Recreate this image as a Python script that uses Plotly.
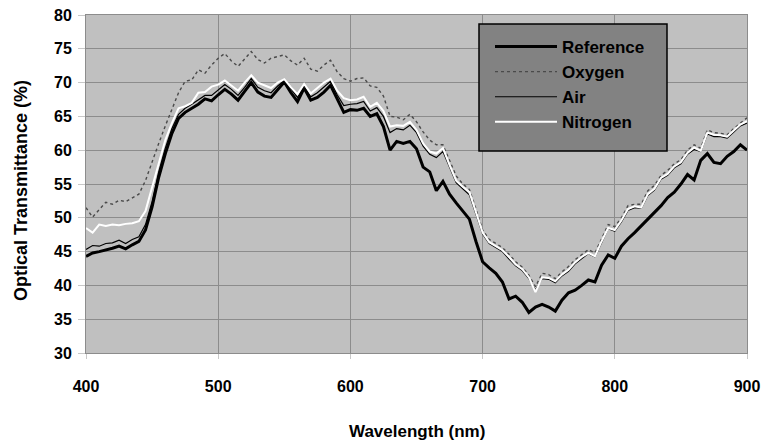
import plotly.graph_objects as go

wavelength = list(range(400, 901, 5))

reference = [44.3, 44.8, 45.0, 45.2, 45.5, 45.8, 45.4, 46.0, 46.5, 48.2,
             51.6, 56.0, 59.5, 62.5, 64.7, 65.6, 66.2, 66.8, 67.6, 67.3,
             68.2, 69.0, 68.3, 67.4, 68.7, 70.0, 68.6, 68.0, 67.8, 69.0,
             70.1, 68.5, 67.2, 69.2, 67.4, 67.8, 68.6, 69.6, 67.5, 65.6,
             66.0, 65.9, 66.2, 65.0, 65.4, 63.5, 60.0, 61.3, 61.0, 61.3,
             60.2, 57.5, 56.8, 54.0, 55.4, 53.5, 52.2, 51.0, 49.8, 46.5,
             43.5, 42.6, 41.8, 40.5, 38.0, 38.4, 37.5, 36.0, 36.8, 37.2,
             36.8, 36.2, 37.8, 38.9, 39.3, 40.0, 40.8, 40.5, 43.0, 44.5,
             44.0, 45.8, 46.9, 47.8, 48.8, 49.7, 50.8, 51.8, 53.0, 53.8,
             55.0, 56.4, 55.6, 58.5, 59.5, 58.2, 58.0, 59.1, 59.8, 60.8,
             60.0]

oxygen = [51.5, 50.1, 51.2, 52.3, 52.0, 52.6, 52.4, 53.0, 53.5, 55.5,
          58.4, 61.0, 63.6, 66.0, 68.5, 70.2, 70.4, 71.9, 71.4, 72.6,
          73.6, 74.3, 73.2, 72.4, 73.5, 74.6, 73.4, 72.9, 73.6, 73.8,
          74.1, 73.2, 72.6, 73.6, 72.0, 71.7, 72.6, 73.3, 71.6, 70.6,
          70.2, 70.6, 70.7, 69.5, 69.3, 68.0, 65.0, 64.9, 64.5, 65.3,
          64.2, 62.7, 61.5, 60.8, 60.8, 58.5, 56.2, 55.0, 54.2, 51.3,
          48.2, 46.8, 46.2, 45.6, 44.6, 43.5, 42.7, 41.5, 39.8, 41.8,
          41.6, 41.0, 42.0, 42.8, 43.8, 44.6, 45.3, 44.8, 47.0, 49.0,
          48.7, 50.0, 51.8, 52.0, 52.0, 54.0, 54.8, 56.3, 57.0, 58.0,
          58.6, 60.0, 60.8, 60.3, 63.0, 62.6, 62.5, 62.3, 63.2, 64.0,
          64.8]

air = [45.3, 45.9, 45.8, 46.2, 46.3, 46.7, 46.2, 46.8, 47.2, 49.0,
       52.4, 56.8, 60.3, 63.2, 65.3, 66.2, 66.8, 67.5, 68.1, 68.1,
       68.9, 69.7, 69.0, 68.1, 69.3, 70.6, 69.3, 68.8, 68.5, 69.5,
       70.3, 69.0, 67.8, 69.5, 67.9, 68.5, 69.3, 70.2, 68.2, 66.6,
       66.8, 66.9, 67.2, 65.8, 66.3, 65.0, 62.6, 63.2, 63.0, 63.7,
       62.6, 60.6, 59.4, 58.9, 59.8, 57.4, 55.2, 54.3, 53.4, 50.5,
       47.6, 46.2, 45.6, 45.0, 43.9, 42.9, 42.2, 41.0, 39.3, 41.0,
       40.9, 40.4, 41.4, 42.1, 43.2, 44.0, 44.7, 44.2, 46.4, 48.4,
       48.0, 49.4, 51.1, 51.5, 51.4, 53.3, 54.1, 55.7, 56.3, 57.4,
       58.0, 59.4, 60.1, 59.8, 62.4, 62.0, 62.0, 61.8, 62.7, 63.6,
       64.0]

nitrogen = [48.5, 47.8, 49.0, 48.8, 49.0, 48.9, 49.1, 49.2, 49.5, 51.0,
            54.5, 58.0, 61.5, 64.0, 66.2, 66.5, 67.0, 68.5, 68.6, 69.4,
            69.7, 70.3, 69.6, 68.8, 70.0, 71.1, 70.0, 69.6, 69.2, 70.0,
            70.5, 69.3, 68.3, 69.8, 68.4, 69.2, 70.0, 70.6, 68.8, 67.7,
            67.4, 67.5, 67.9, 66.4, 67.0, 65.8, 63.5, 63.7, 63.6, 64.2,
            63.0, 61.0, 59.8, 59.5, 60.3, 57.8, 55.5, 54.6, 53.8, 50.8,
            47.8, 46.4, 45.8, 45.2, 44.2, 43.1, 42.4, 41.2, 39.0, 41.2,
            41.1, 40.6, 41.6, 42.3, 43.4, 44.2, 44.8, 44.3, 46.5, 48.5,
            48.2, 49.6, 51.3, 51.7, 51.5, 53.5, 54.3, 55.9, 56.5, 57.6,
            58.2, 59.6, 60.4, 59.9, 62.6, 62.3, 62.2, 62.0, 62.9, 63.8,
            64.3]

x_ticks = [400, 500, 600, 700, 800, 900]
y_ticks = [30, 35, 40, 45, 50, 55, 60, 65, 70, 75, 80]

FONT = "Liberation Sans, Arial, sans-serif"

# plot area in pixels
L, R, T, B = 86, 747, 15, 353
PW, PH = R - L, B - T


def px_x(p):
    return (p - L) / PW


def px_y(p):
    return (B - p) / PH


fig = go.Figure()
fig.add_trace(go.Scatter(x=wavelength, y=reference, name="Reference", mode="lines",
                         line=dict(color="black", width=3)))
fig.add_trace(go.Scatter(x=wavelength, y=oxygen, name="Oxygen", mode="lines",
                         line=dict(color="#4a4a4a", width=1.4, dash="dot")))
fig.add_trace(go.Scatter(x=wavelength, y=air, name="Air", mode="lines",
                         line=dict(color="black", width=1.2)))
fig.add_trace(go.Scatter(x=wavelength, y=nitrogen, name="Nitrogen", mode="lines",
                         line=dict(color="white", width=2)))

fig.update_layout(
    width=763, height=446,
    margin=dict(l=L, r=763 - R, t=T, b=446 - B, autoexpand=False),
    paper_bgcolor="white",
    plot_bgcolor="#c0c0c0",
    font=dict(family=FONT, size=16, color="black", weight="bold"),
    showlegend=True,
    legend=dict(x=px_x(490), y=px_y(29), xanchor="left", yanchor="top",
                bgcolor="rgba(0,0,0,0)", borderwidth=0,
                font=dict(family=FONT, size=17, color="black", weight="bold"),
                itemwidth=62),
    xaxis=dict(range=[400, 900], tickvals=x_ticks, ticks="outside", ticklen=5,
               tickcolor="#c8c8c8", showgrid=True, gridcolor="#8c8c8c", gridwidth=1,
               showline=True, linecolor="#8c8c8c", linewidth=1, mirror=True,
               zeroline=False, ticklabelstandoff=14, automargin=False,
               tickfont=dict(family=FONT, size=16, weight="bold")),
    yaxis=dict(range=[30, 80], tickvals=y_ticks, ticks="outside", ticklen=7,
               tickcolor="#c8c8c8", showgrid=True, gridcolor="#8c8c8c", gridwidth=1,
               showline=True, linecolor="#8c8c8c", linewidth=1, mirror=True,
               zeroline=False, ticklabelstandoff=3, automargin=False,
               tickfont=dict(family=FONT, size=16, weight="bold")),
    shapes=[dict(type="rect", xref="paper", yref="paper",
                 x0=px_x(479), x1=px_x(667), y0=px_y(151), y1=px_y(24),
                 fillcolor="#828282", line=dict(color="black", width=1.5),
                 layer="above")],
    annotations=[
        dict(text="Wavelength (nm)", xref="paper", yref="paper",
             x=px_x(417), y=px_y(431), showarrow=False,
             xanchor="center", yanchor="middle",
             font=dict(family=FONT, size=17, weight="bold")),
        dict(text="Optical Transmittance (%)", xref="paper", yref="paper",
             x=px_x(21), y=px_y(191), showarrow=False,
             textangle=-90, xanchor="center", yanchor="middle",
             font=dict(family=FONT, size=18, weight="bold")),
    ],
)

fig.write_html("out.html")
